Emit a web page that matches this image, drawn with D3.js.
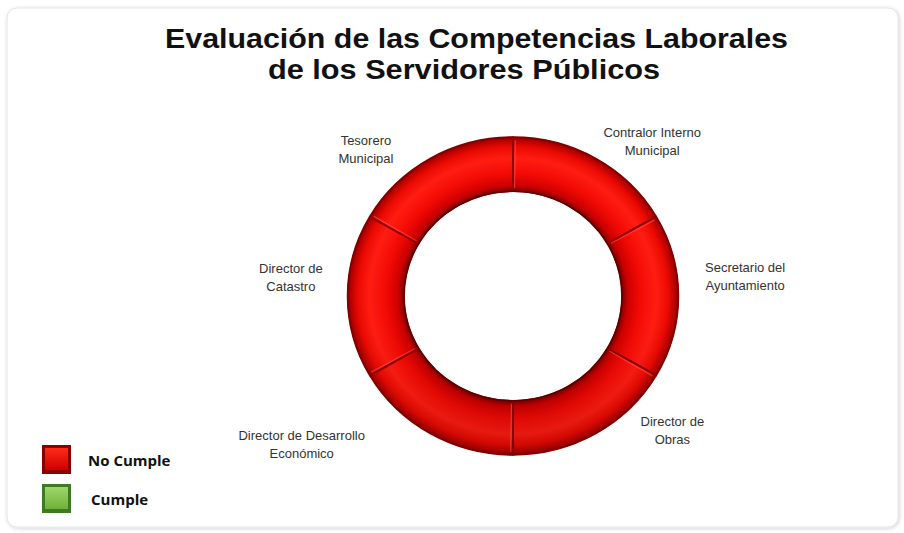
<!DOCTYPE html>
<html>
<head>
<meta charset="utf-8">
<script src="https://cdn.jsdelivr.net/npm/d3@7/dist/d3.min.js"></script>
<style>
  html, body { margin: 0; padding: 0; background: #ffffff; }
  svg { display: block; }
</style>
</head>
<body>
<svg id="chart" width="904" height="533"></svg>
<script>
// ---- data ----
const categories = [
  "Contralor Interno\nMunicipal",
  "Secretario del\nAyuntamiento",
  "Director de\nObras",
  "Director de Desarrollo\nEconómico",
  "Director de\nCatastro",
  "Tesorero\nMunicipal"
];
const values = [1, 1, 1, 1, 1, 1];
const status = ["No Cumple", "No Cumple", "No Cumple", "No Cumple", "No Cumple", "No Cumple"];
const legendLabels = ["No Cumple", "Cumple"];
const titleLines = ["Evaluación de las Competencias Laborales", "de los Servidores Públicos"];

// ---- layout ----
const W = 904, H = 533;
const cx = 513, cy = 296;
const rOuter = 162, rInner = 107;
const ringScaleX = 1.02, ringScaleY = 0.98;
// label nudges (degrees, extra radius) relative to slice mid angle
const labelNudge = [[12, 0], [-5, 25], [-20, 0], [25, 50], [5, 15], [-15, 0]];
const labelR = 208;
const titleLayout = [{ x: 476.5, y: 48, len: 623 }, { x: 464, y: 79, len: 392 }];

const svg = d3.select("#chart");
const defs = svg.append("defs");

// panel shadow
const f = defs.append("filter").attr("id", "shadow").attr("x", "-5%").attr("y", "-5%").attr("width", "110%").attr("height", "110%");
f.append("feDropShadow").attr("dx", 1).attr("dy", 1).attr("stdDeviation", 2).attr("flood-color", "#000").attr("flood-opacity", 0.18);

svg.append("rect")
  .attr("x", 7).attr("y", 8).attr("width", 891).attr("height", 519)
  .attr("rx", 10).attr("ry", 10)
  .attr("fill", "#ffffff").attr("stroke", "#e4e4e4").attr("stroke-width", 1)
  .attr("filter", "url(#shadow)");

// ring gradient (user space of the translated group -> centre at 0,0)
const rg = defs.append("radialGradient").attr("id", "ringGrad")
  .attr("gradientUnits", "userSpaceOnUse")
  .attr("cx", 0).attr("cy", 0).attr("r", rOuter);
[[rInner / rOuter, "#7a0000"], [rInner / rOuter + 0.035, "#cc0000"], [0.77, "#f20a05"],
 [0.87, "#ff1d12"], [0.94, "#ea0a02"], [0.985, "#b30000"], [1, "#7a0000"]]
  .forEach(([o, c]) => rg.append("stop").attr("offset", o).attr("stop-color", c));

// subtle top-light / bottom-shade overlay
const sh = defs.append("linearGradient").attr("id", "shade").attr("x1", 0).attr("y1", 0).attr("x2", 0).attr("y2", 1);
sh.append("stop").attr("offset", 0).attr("stop-color", "#000").attr("stop-opacity", 0);
sh.append("stop").attr("offset", 0.6).attr("stop-color", "#000").attr("stop-opacity", 0);
sh.append("stop").attr("offset", 1).attr("stop-color", "#000").attr("stop-opacity", 0.12);

const colorScale = d3.scaleOrdinal().domain(legendLabels).range(["url(#ringGrad)", "#7dc142"]);

const pie = d3.pie().sort(null).value(d => d.v);
const data = categories.map((c, i) => ({ c, v: values[i], s: status[i] }));
const arcs = pie(data);
const arcGen = d3.arc().innerRadius(rInner).outerRadius(rOuter);

const g = svg.append("g").attr("transform", `translate(${cx},${cy})`);
const ring = g.append("g").attr("transform", `scale(${ringScaleX},${ringScaleY})`);

ring.selectAll("path.slice").data(arcs).enter().append("path")
  .attr("class", "slice")
  .attr("d", arcGen)
  .attr("fill", d => colorScale(d.data.s))
  .attr("stroke", "#940000")
  .attr("stroke-width", 2)
  .attr("stroke-linejoin", "round");

ring.append("path")
  .attr("d", d3.arc().innerRadius(rInner).outerRadius(rOuter)({ startAngle: 0, endAngle: 2 * Math.PI }))
  .attr("fill", "url(#shade)")
  .attr("pointer-events", "none");

// seam highlights
ring.selectAll("line.seam").data(arcs).enter().append("line")
  .attr("class", "seam")
  .each(function (d) {
    const a = d.startAngle + 0.014;
    d3.select(this)
      .attr("x1", Math.sin(a) * (rInner + 3)).attr("y1", -Math.cos(a) * (rInner + 3))
      .attr("x2", Math.sin(a) * (rOuter - 3)).attr("y2", -Math.cos(a) * (rOuter - 3));
  })
  .attr("stroke", "#ff6a5a").attr("stroke-width", 1).attr("opacity", 0.55);

// outer/inner edge lines
ring.append("circle").attr("r", rOuter).attr("fill", "none").attr("stroke", "#7a0000").attr("stroke-width", 1);
ring.append("circle").attr("r", rInner).attr("fill", "none").attr("stroke", "#5a0000").attr("stroke-width", 1.5);

// labels
g.selectAll("text.lbl").data(arcs).enter().append("text")
  .attr("class", "lbl")
  .attr("text-anchor", "middle")
  .attr("font-family", "Arial, 'Liberation Sans', sans-serif")
  .attr("font-size", 13)
  .attr("fill", "#333333")
  .each(function (d, i) {
    const mid = (d.startAngle + d.endAngle) / 2 + labelNudge[i][0] * Math.PI / 180;
    const r = labelR + labelNudge[i][1];
    const x = Math.sin(mid) * r, y = -Math.cos(mid) * r;
    const lines = d.data.c.split("\n");
    const t = d3.select(this);
    lines.forEach((ln, k) => {
      t.append("tspan").attr("x", x).attr("y", y + (k - (lines.length - 1) / 2) * 18 + 5).text(ln);
    });
  });

// title
svg.append("g").selectAll("text").data(titleLines).enter().append("text")
  .attr("x", (d, i) => titleLayout[i].x).attr("y", (d, i) => titleLayout[i].y)
  .attr("text-anchor", "middle")
  .attr("textLength", (d, i) => titleLayout[i].len)
  .attr("lengthAdjust", "spacingAndGlyphs")
  .attr("font-family", "Arial, 'Liberation Sans', sans-serif")
  .attr("font-weight", "bold")
  .attr("font-size", 28)
  .attr("fill", "#111111")
  .text(d => d);

// legend
const legColors = [["#ff2a1a", "#d00000", "#8a0000"], ["#9fd66a", "#6fb13a", "#3f7a22"]];
legendLabels.forEach((l, i) => {
  const gr = defs.append("linearGradient").attr("id", "lg" + i).attr("x1", 0).attr("y1", 0).attr("x2", 0).attr("y2", 1);
  gr.append("stop").attr("offset", 0).attr("stop-color", legColors[i][0]);
  gr.append("stop").attr("offset", 1).attr("stop-color", legColors[i][1]);
});
const leg = svg.append("g").selectAll("g").data(legendLabels).enter().append("g")
  .attr("transform", (d, i) => `translate(42,${445 + i * 39})`);
leg.append("rect").attr("width", 29).attr("height", 29)
  .attr("fill", (d, i) => legColors[i][2]);
leg.append("rect").attr("x", 3).attr("y", 3).attr("width", 23).attr("height", 22)
  .attr("fill", (d, i) => `url(#lg${i})`);
leg.append("text")
  .attr("x", (d, i) => i === 0 ? 46 : 49).attr("y", 21)
  .attr("font-family", "'Open Sans', Lato, sans-serif")
  .attr("font-weight", "bold")
  .attr("font-size", 15)
  .attr("fill", "#111")
  .text(d => d);
</script>
</body>
</html>
